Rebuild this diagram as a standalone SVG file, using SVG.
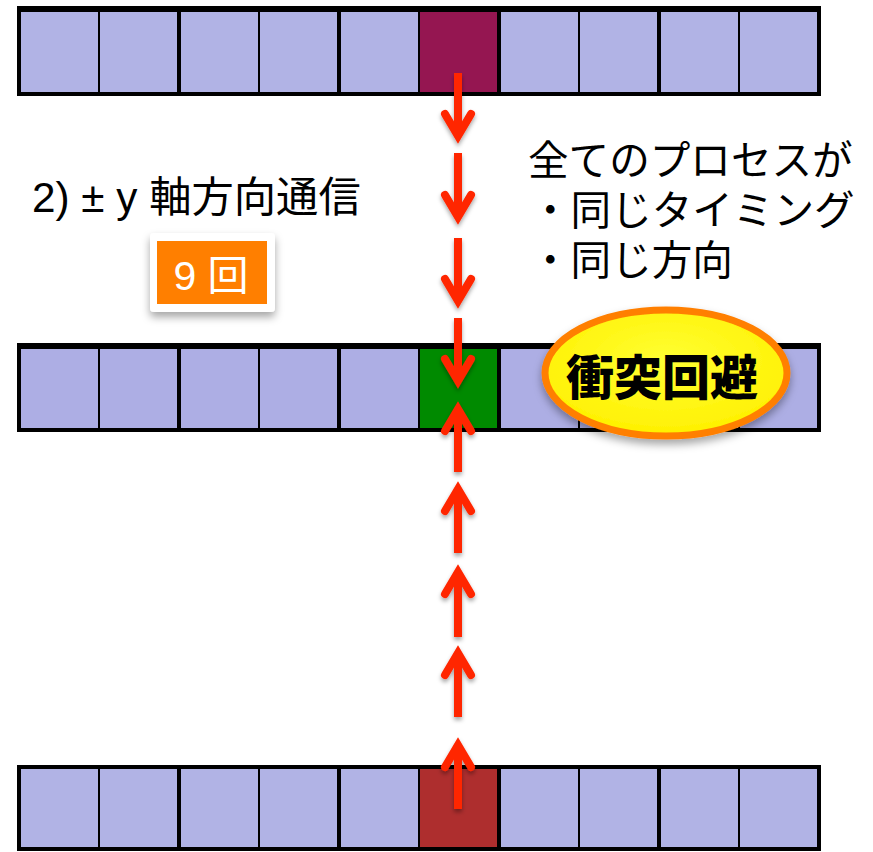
<svg xmlns="http://www.w3.org/2000/svg" width="873" height="852" viewBox="0 0 873 852">
<defs>
<style>
.cell{fill:#B1B3E5}
.mid{fill:#ADAEE4}
.frame{fill:none;stroke:#000;stroke-width:4}
.thin{stroke:#000;stroke-width:2}
.thick{stroke:#000;stroke-width:4}
.shaft{stroke:#FF2600;stroke-width:8;fill:none}
.head{stroke:#FF2600;stroke-width:8;fill:none;stroke-linecap:round;stroke-linejoin:miter;stroke-miterlimit:6}
.lbl{font-family:"Liberation Sans","Noto Sans CJK JP",sans-serif;fill:#000}
.jp{font-family:"Noto Sans CJK JP",sans-serif;font-size:40.6px;fill:#000}
</style>
<filter id="sh" x="-50%" y="-50%" width="200%" height="200%">
<feDropShadow dx="0" dy="3" stdDeviation="2" flood-color="#000" flood-opacity="0.35"/>
</filter>
<filter id="sh2" x="-20%" y="-20%" width="140%" height="150%">
<feDropShadow dx="0" dy="5" stdDeviation="4" flood-color="#000" flood-opacity="0.35"/>
</filter>
<radialGradient id="yel" cx="0.5" cy="0.4" r="0.6">
<stop offset="0" stop-color="#FFFF33"/>
<stop offset="1" stop-color="#FFF000"/>
</radialGradient>
</defs>

<g id="row-top">
<rect class="cell" x="19" y="9" width="800" height="85"/>
<rect x="419" y="9" width="80" height="85" fill="#951651"/>
<line class="thin" x1="99" y1="9" x2="99" y2="94"/>
<line class="thick" x1="179" y1="9" x2="179" y2="94"/>
<line class="thin" x1="259" y1="9" x2="259" y2="94"/>
<line class="thick" x1="339" y1="9" x2="339" y2="94"/>
<line class="thin" x1="419" y1="9" x2="419" y2="94"/>
<line class="thick" x1="499" y1="9" x2="499" y2="94"/>
<line class="thin" x1="579" y1="9" x2="579" y2="94"/>
<line class="thick" x1="659" y1="9" x2="659" y2="94"/>
<line class="thin" x1="739" y1="9" x2="739" y2="94"/>
<rect class="frame" x="19" y="9" width="800" height="85"/>
<line x1="17" y1="9" x2="821" y2="9" stroke="#000" stroke-width="6"/>
</g>

<g id="row-mid">
<rect class="mid" x="19" y="346" width="800" height="84"/>
<rect x="419" y="346" width="80" height="84" fill="#008A00"/>
<line class="thin" x1="99" y1="346" x2="99" y2="430"/>
<line class="thick" x1="179" y1="346" x2="179" y2="430"/>
<line class="thin" x1="259" y1="346" x2="259" y2="430"/>
<line class="thick" x1="339" y1="346" x2="339" y2="430"/>
<line class="thin" x1="419" y1="346" x2="419" y2="430"/>
<line class="thick" x1="499" y1="346" x2="499" y2="430"/>
<line class="thin" x1="579" y1="346" x2="579" y2="430"/>
<line class="thick" x1="659" y1="346" x2="659" y2="430"/>
<line class="thin" x1="739" y1="346" x2="739" y2="430"/>
<rect class="frame" x="19" y="346" width="800" height="84"/>
<line x1="17" y1="346" x2="821" y2="346" stroke="#000" stroke-width="6"/>
</g>

<g id="row-bottom">
<rect class="cell" x="19" y="767" width="800" height="82"/>
<rect x="419" y="767" width="80" height="82" fill="#AE2E2E"/>
<line class="thin" x1="99" y1="767" x2="99" y2="849"/>
<line class="thick" x1="179" y1="767" x2="179" y2="849"/>
<line class="thin" x1="259" y1="767" x2="259" y2="849"/>
<line class="thick" x1="339" y1="767" x2="339" y2="849"/>
<line class="thin" x1="419" y1="767" x2="419" y2="849"/>
<line class="thick" x1="499" y1="767" x2="499" y2="849"/>
<line class="thin" x1="579" y1="767" x2="579" y2="849"/>
<line class="thick" x1="659" y1="767" x2="659" y2="849"/>
<line class="thin" x1="739" y1="767" x2="739" y2="849"/>
<rect class="frame" x="19" y="767" width="800" height="82"/>
</g>

<g id="connectors" filter="url(#sh)">
<path class="shaft" d="M458 73 V136"/>
<path class="head" d="M445 114 L458 136 L471 114"/>
<path class="shaft" d="M458 153 V217"/>
<path class="head" d="M445 195 L458 217 L471 195"/>
<path class="shaft" d="M458 238 V301"/>
<path class="head" d="M445 279 L458 301 L471 279"/>
<path class="shaft" d="M458 318 V381"/>
<path class="head" d="M445 359 L458 381 L471 359"/>

<path class="shaft" d="M458 472 V409"/>
<path class="head" d="M445 431 L458 409 L471 431"/>
<path class="shaft" d="M458 553 V489"/>
<path class="head" d="M445 511 L458 489 L471 511"/>
<path class="shaft" d="M458 637 V572"/>
<path class="head" d="M445 594 L458 572 L471 594"/>
<path class="shaft" d="M458 717 V653"/>
<path class="head" d="M445 675 L458 653 L471 675"/>
<path class="shaft" d="M458 809 V745"/>
<path class="head" d="M445 767 L458 745 L471 767"/>
</g>

<g id="title">
<text class="lbl" x="32" y="212" font-size="42.3">2) ± y 軸方向通信</text>
</g>

<g id="count">
<rect x="150" y="233" width="125" height="79" rx="4" fill="#FFFFFF" filter="url(#sh2)"/>
<rect x="157" y="241" width="110" height="63" fill="#FF7F00"/>
<text class="lbl" x="211" y="290" font-size="41" text-anchor="middle" style="fill:#FFFFFF">9 回</text>
</g>

<g id="note">
<text class="jp" x="528" y="175">全てのプロセスが</text>
<text class="jp" x="530" y="225">・同じタイミング</text>
<text class="jp" x="530" y="275">・同じ方向</text>
</g>

<g id="avoid">
<ellipse cx="666" cy="373" rx="121" ry="63" fill="url(#yel)" stroke="#FF7F00" stroke-width="7" filter="url(#sh2)"/>
<text x="662" y="395" font-family="'Noto Sans CJK JP',sans-serif" font-size="48" font-weight="900" text-anchor="middle" fill="#000">衝突回避</text>
</g>
</svg>
